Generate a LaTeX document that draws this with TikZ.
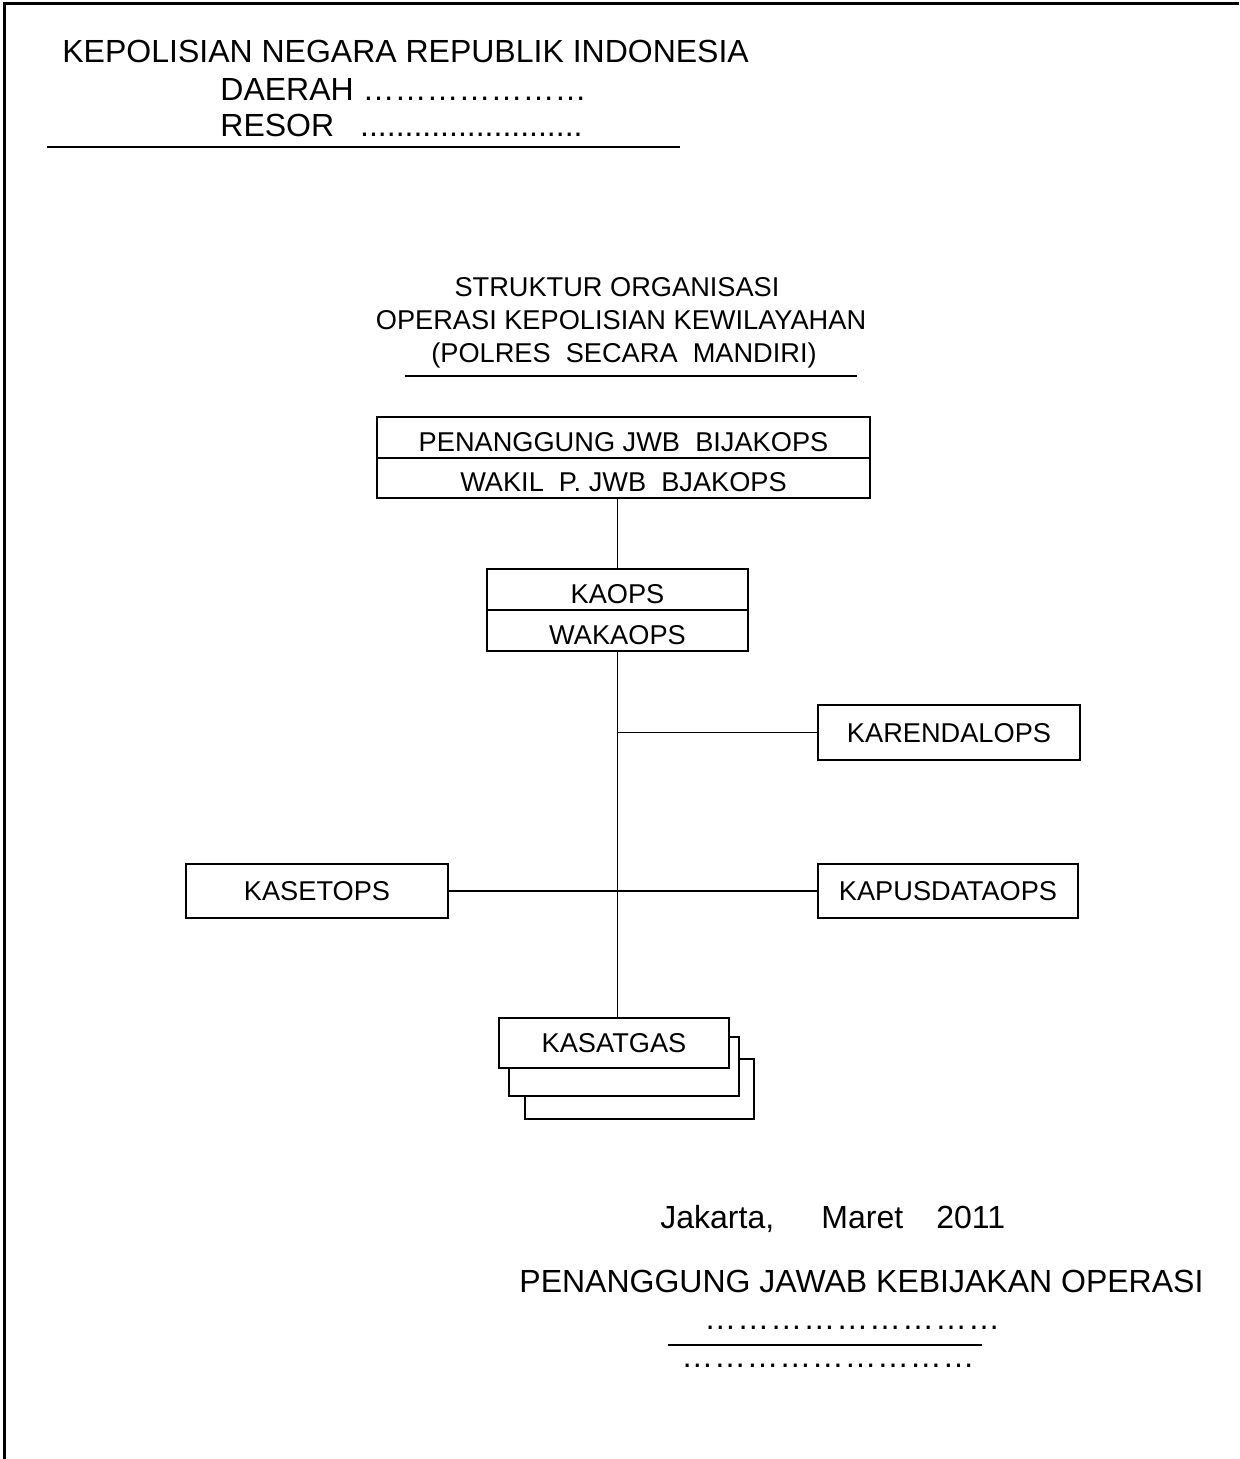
\documentclass[tikz,border=0pt]{standalone}
\usepackage{fontspec}
\setmainfont{Liberation Sans}
\tikzset{
  big/.style={font=\fontsize{16pt}{19pt}\selectfont, inner sep=0pt},
  mid/.style={font=\fontsize{13.6pt}{16pt}\selectfont, inner sep=0pt},
  orgbox/.style={draw, line width=0.9pt, fill=white, font=\fontsize{13.6pt}{16pt}\selectfont,
     inner sep=0pt, text height=9.8pt, text depth=0pt},
  rowbox/.style={orgbox, text height=13.6pt},
  conn/.style={line width=0.9pt},
  rule/.style={line width=0.9pt}
}
\begin{document}
\begin{tikzpicture}[x=0.5pt,y=-0.5pt]
\useasboundingbox (0,0) rectangle (1239,1459);
% page frame
\draw[line width=1.5pt] (4,1459) -- (4,4) -- (1239,4);
% header
\node[big, anchor=base west] (h1) at (62,63) {KEPOLISIAN NEGARA REPUBLIK INDONESIA};
\node[big, anchor=base west] (h2) at (220,101) {DAERAH …………………};
\node[big, anchor=base west] (h3) at (220,137) {RESOR\hspace{13pt}.........................};
\coordinate (hl1) at (47,147);
\coordinate (hl2) at (680,147);
\draw[rule] (hl1) -- (hl2);
% title
\node[mid, anchor=base] (t1) at (617,297) {STRUKTUR ORGANISASI};
\node[mid, anchor=base] (t2) at (621,330) {OPERASI KEPOLISIAN KEWILAYAHAN};
\node[mid, anchor=base] (t3) at (624,363) {(POLRES\ \ SECARA\ \ MANDIRI)};
\coordinate (tl1) at (405,376);
\coordinate (tl2) at (857,376);
\draw[rule] (tl1) -- (tl2);
% boxes
\node[rowbox, minimum width=246.5pt, minimum height=20.5pt] (pj1) at (623.5,437.5) {PENANGGUNG JWB\ \ BIJAKOPS};
\node[rowbox, minimum width=246.5pt, minimum height=20pt] (pj2) at (623.5,478) {WAKIL\ \ P. JWB\ \ BJAKOPS};
\node[rowbox, minimum width=130.5pt, minimum height=20.5pt] (ka1) at (617.5,589.5) {KAOPS};
\node[rowbox, minimum width=130.5pt, minimum height=20.5pt] (ka2) at (617.5,630.5) {WAKAOPS};
\node[orgbox, minimum width=131pt, minimum height=27.5pt] (ren) at (949,732.5) {KARENDALOPS};
\node[orgbox, minimum width=131pt, minimum height=27pt] (set) at (317,891) {KASETOPS};
\node[orgbox, minimum width=130pt, minimum height=27pt] (pus) at (948,891) {KAPUSDATAOPS};
\node[orgbox, minimum width=114.5pt, minimum height=30pt] (sg3) at (639.5,1089) {};
\node[orgbox, minimum width=115pt, minimum height=29.5pt] (sg2) at (624,1066.5) {};
\node[orgbox, minimum width=115pt, minimum height=25pt] (sg1) at (614,1043) {KASATGAS};
% connectors
\draw[conn] (ka1.north) -- (ka1.north |- pj2.south);
\draw[conn] (ka2.south) -- (ka2.south |- sg1.north);
\draw[conn] (ka2.south |- ren.west) -- (ren.west);
\draw[conn] (set.east) -- (pus.west);
% signature block
\node[big, anchor=base west] (j1) at (660,1228) {Jakarta,\hspace{23.6pt}Maret\hspace{16.6pt}2011};
\node[big, anchor=base west] (j2) at (519,1292) {PENANGGUNG JAWAB KEBIJAKAN OPERASI};
\node[big, anchor=base west] (d1) at (704,1329) {\addfontfeature{LetterSpace=3}………………………};
\coordinate (sl1) at (668,1345);
\coordinate (sl2) at (982,1345);
\draw[rule] (sl1) -- (sl2);
\node[big, anchor=base west] (d2) at (681,1367) {\addfontfeature{LetterSpace=2}………………………};
\end{tikzpicture}
\end{document}
